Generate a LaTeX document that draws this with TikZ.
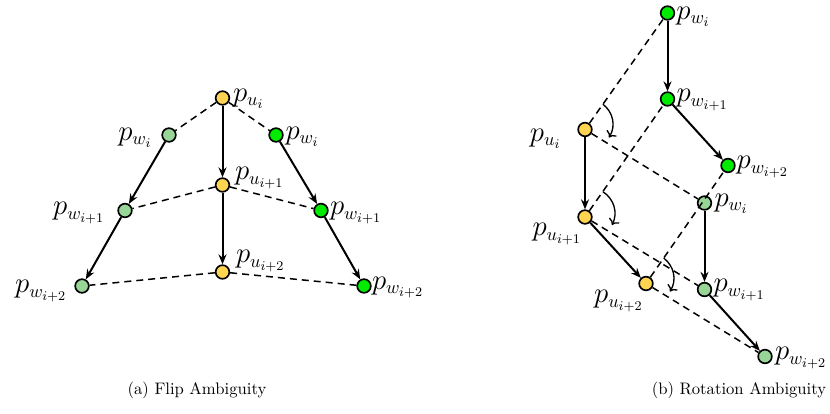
\documentclass[tikz,border=0pt]{standalone}
\usetikzlibrary{arrows.meta,calc}
\definecolor{lgreen}{RGB}{152,214,152}
\definecolor{bgreen}{RGB}{0,235,0}
\definecolor{uyellow}{RGB}{255,212,80}
\begin{document}
\begin{tikzpicture}[x=0.6pt,y=-0.6pt,
  pnode/.style={circle,draw,line width=1pt,minimum size=8.2pt,inner sep=0pt},
  unode/.style={pnode,fill=uyellow},
  lnode/.style={pnode,fill=lgreen},
  gnode/.style={pnode,fill=bgreen},
  lbl/.style={font=\fontsize{16}{19}\selectfont,inner sep=1pt},
  arr/.style={-{Stealth[length=6pt,width=4.8pt,inset=2pt]},line width=1.2pt},
  dsh/.style={line width=0.9pt,dash pattern=on 4.2pt off 3pt},
  turn/.style={->,line width=0.8pt},
  captxt/.style={font=\fontsize{10}{12}\selectfont,inner sep=0pt}
]
\useasboundingbox (0,0) rectangle (830,413);

% ---------------- (a) Flip Ambiguity ----------------
\node[unode] (ua) at (222.5,98) {};
\node[unode] (ub) at (222.5,185) {};
\node[unode] (uc) at (222.5,272) {};
\node[lnode] (la) at (169,135) {};
\node[lnode] (lb) at (125,210.5) {};
\node[lnode] (lc) at (82,286) {};
\node[gnode] (ra) at (276,135) {};
\node[gnode] (rb) at (321,210.5) {};
\node[gnode] (rc) at (364,286) {};

\draw[dsh] (ua) -- (la);
\draw[dsh] (ua) -- (ra);
\draw[dsh] (ub) -- (lb);
\draw[dsh] (ub) -- (rb);
\draw[dsh] (uc) -- (lc);
\draw[dsh] (uc) -- (rc);
\draw[arr] (ua) -- (ub);
\draw[arr] (ub) -- (uc);
\draw[arr] (la) -- (lb);
\draw[arr] (lb) -- (lc);
\draw[arr] (ra) -- (rb);
\draw[arr] (rb) -- (rc);

\node[lbl,anchor=west] (Lua) at ([shift={(8.5,1)}]ua.center) {$p_{u_i}$};
\node[lbl,anchor=west] (Lub) at ([shift={(10.5,-7)}]ub.center) {$p_{u_{i+1}}$};
\node[lbl,anchor=west] (Luc) at ([shift={(11.5,-11)}]uc.center) {$p_{u_{i+2}}$};
\node[lbl,anchor=east] (Lla) at ([shift={(-15,3)}]la.center) {$p_{w_i}$};
\node[lbl,anchor=east] (Llb) at ([shift={(-18,2.5)}]lb.center) {$p_{w_{i+1}}$};
\node[lbl,anchor=east] (Llc) at ([shift={(-13,5)}]lc.center) {$p_{w_{i+2}}$};
\node[lbl,anchor=west] (Lra) at ([shift={(7.5,1.5)}]ra.center) {$p_{w_i}$};
\node[lbl,anchor=west] (Lrb) at ([shift={(7,2.5)}]rb.center) {$p_{w_{i+1}}$};
\node[lbl,anchor=west] (Lrc) at ([shift={(6,1.5)}]rc.center) {$p_{w_{i+2}}$};

\node[captxt] (capa) at (197,390) {(a) Flip Ambiguity};

% ---------------- (b) Rotation Ambiguity ----------------
\node[gnode] (wt) at (667.5,13) {};
\node[gnode] (wm) at (667.5,99) {};
\node[gnode] (wb) at (728,165.5) {};
\node[unode] (u1) at (585,129.5) {};
\node[unode] (u2) at (585,217) {};
\node[unode] (u3) at (646,283.5) {};
\node[lnode] (g1) at (704.5,203) {};
\node[lnode] (g2) at (704.5,289.5) {};
\node[lnode] (g3) at (765,356.5) {};

\draw[dsh] (u1) -- (wt);
\draw[dsh] (u2) -- (wm);
\draw[dsh] (u3) -- (wb);
\draw[dsh] (u1) -- (g1);
\draw[dsh] (u2) -- (g2);
\draw[dsh] (u3) -- (g3);
\draw[arr] (wt) -- (wm);
\draw[arr] (wm) -- (wb);
\draw[arr] (u1) -- (u2);
\draw[arr] (u2) -- (u3);
\draw[arr] (g1) -- (g2);
\draw[arr] (g2) -- (g3);

\coordinate (s1) at ($(u1.center)!18.6pt!(wt.center)$);
\coordinate (e1) at ([shift={(24,8)}]u1.center);
\coordinate (s2) at ($(u2.center)!18.6pt!(wm.center)$);
\coordinate (e2) at ([shift={(27,8)}]u2.center);
\coordinate (s3) at ($(u3.center)!18.6pt!(wb.center)$);
\coordinate (e3) at ([shift={(24,8)}]u3.center);
\draw[turn] (s1) to[bend left=42] (e1);
\draw[turn] (s2) to[bend left=42] (e2);
\draw[turn] (s3) to[bend left=42] (e3);

\node[lbl,anchor=west,inner sep=0pt] (Lwt) at ([shift={(8.5,4)}]wt.center) {$p_{w_i}$};
\node[lbl,anchor=west] (Lwm) at ([shift={(7,1)}]wm.center) {$p_{w_{i+1}}$};
\node[lbl,anchor=west] (Lwb) at ([shift={(6.7,1.5)}]wb.center) {$p_{w_{i+2}}$};
\node[lbl,anchor=east] (Lu1) at ([shift={(-22,9.5)}]u1.center) {$p_{u_i}$};
\node[lbl,anchor=east] (Lu2) at ([shift={(-1.3,17)}]u2.center) {$p_{u_{i+1}}$};
\node[lbl,anchor=east] (Lu3) at ([shift={(-0.7,17.5)}]u3.center) {$p_{u_{i+2}}$};
\node[lbl,anchor=west] (Lg1) at ([shift={(8,0.5)}]g1.center) {$p_{w_i}$};
\node[lbl,anchor=west] (Lg2) at ([shift={(7,0.5)}]g2.center) {$p_{w_{i+1}}$};
\node[lbl,anchor=west] (Lg3) at ([shift={(8,1.5)}]g3.center) {$p_{w_{i+2}}$};

\node[captxt] (capb) at (739,390) {(b) Rotation Ambiguity};
\end{tikzpicture}
\end{document}
